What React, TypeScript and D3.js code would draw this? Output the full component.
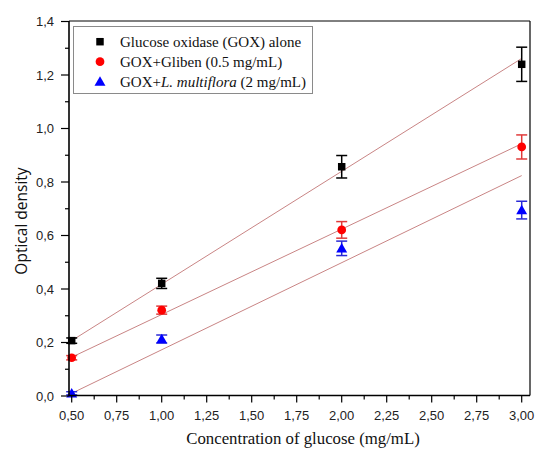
import React from "react";
import * as d3 from "d3";

const xValues = [0.5, 1, 2, 3];
const goxAlone = [0.207, 0.421, 0.857, 1.24];
const goxAloneErr = [0.01, 0.019, 0.042, 0.064];
const goxGliben = [0.143, 0.321, 0.621, 0.931];
const goxGlibenErr = [0.008, 0.015, 0.031, 0.045];
const goxLm = [0.01, 0.213, 0.552, 0.695];
const goxLmErr = [0.006, 0.015, 0.027, 0.033];

const fitX = [0.5, 3];
const goxAloneFit = [0.207, 1.262];
const goxGlibenFit = [0.145, 0.943];
const goxLmFit = [0.01, 0.824];

const xTicks = [0.5, 0.75, 1, 1.25, 1.5, 1.75, 2, 2.25, 2.5, 2.75, 3];
const xTickLabels = ["0,50", "0,75", "1,00", "1,25", "1,50", "1,75", "2,00", "2,25", "2,50", "2,75", "3,00"];
const yTicks = [0, 0.2, 0.4, 0.6, 0.8, 1.0, 1.2, 1.4];
const yTickLabels = ["0,0", "0,2", "0,4", "0,6", "0,8", "1,0", "1,2", "1,4"];

const W = 536, H = 452;
const left = 69, right = 530, top = 21, bottom = 395.5;

const x = d3.scaleLinear().domain([0.5, 3]).range([71.7, 521.7]);
const y = d3.scaleLinear().domain([0, 1.4]).range([396, 21.5]);

const xMinor = d3.range(0, 11).map(i => 0.625 + i * 0.25).filter(v => v <= 3.04);
const yMinor = d3.range(0, 7).map(i => 0.1 + i * 0.2);

type Series = { vals: number[]; err: number[]; fit: number[]; color: string; errColor: string; shape: string; };

const series: Series[] = [
  { vals: goxAlone, err: goxAloneErr, fit: goxAloneFit, color: "#000000", errColor: "#000000", shape: "square" },
  { vals: goxGliben, err: goxGlibenErr, fit: goxGlibenFit, color: "#ff0000", errColor: "#e03a3a", shape: "circle" },
  { vals: goxLm, err: goxLmErr, fit: goxLmFit, color: "#0000ff", errColor: "#2a2ad6", shape: "triangle" },
];

const symSquare = d3.symbol().type(d3.symbolSquare).size(56)();
const symCircle = d3.symbol().type(d3.symbolCircle).size(60)();
const symTri = d3.symbol().type(d3.symbolTriangle).size(52)();
const shapePath = (s: string) => (s === "square" ? symSquare : s === "circle" ? symCircle : symTri);

const line = d3.line<[number, number]>().x(d => x(d[0])).y(d => y(d[1]));

const SERIF = "'Liberation Serif', 'Times New Roman', Times, serif";
const SANS = "'Liberation Sans', Arial, sans-serif";

export default function App() {
  const cap = 5.5;
  return (
    <svg width={W} height={H} style={{ position: "absolute", left: 0, top: 0, background: "#fff" }}>
      <rect x={0} y={0} width={W} height={H} fill="#fff" />
      {series.map((s, i) => (
        <path key={"fit" + i} d={line(fitX.map((v, j) => [v, s.fit[j]] as [number, number])) || ""}
          stroke="#c98585" strokeWidth={1} fill="none" />
      ))}
      {series.map((s, i) => (
        <g key={"err" + i} stroke={s.errColor} strokeWidth={1.5}>
          {xValues.map((xv, j) => {
            const cx = x(xv), y1 = y(s.vals[j] + s.err[j]), y2 = y(s.vals[j] - s.err[j]);
            return (
              <g key={j}>
                <line x1={cx} x2={cx} y1={y1} y2={y2} />
                <line x1={cx - cap} x2={cx + cap} y1={y1} y2={y1} />
                <line x1={cx - cap} x2={cx + cap} y1={y2} y2={y2} />
              </g>
            );
          })}
        </g>
      ))}
      {series.map((s, i) => (
        <g key={"m" + i} fill={s.color}>
          {xValues.map((xv, j) => (
            <path key={j} d={shapePath(s.shape) || ""} transform={`translate(${x(xv)},${y(s.vals[j]) + (s.shape === "triangle" ? 1 : 0)})`} />
          ))}
        </g>
      ))}
      <line x1={left} x2={right} y1={top} y2={top} stroke="#000" strokeWidth={1} />
      <line x1={right} x2={right} y1={top} y2={bottom} stroke="#000" strokeWidth={1.2} />
      <line x1={left} x2={left} y1={top} y2={bottom + 0.5} stroke="#000" strokeWidth={1.6} />
      <line x1={left} x2={right} y1={bottom} y2={bottom} stroke="#000" strokeWidth={1.6} />
      {xTicks.map((t, i) => (
        <g key={"xt" + i}>
          <line x1={x(t)} x2={x(t)} y1={bottom} y2={bottom + 7} stroke="#000" strokeWidth={1.2} />
          <text x={x(t)} y={420} textAnchor="middle" style={{ fontFamily: SANS, fontSize: 13 }} fill="#222">{xTickLabels[i]}</text>
        </g>
      ))}
      {xMinor.map((t, i) => (
        <line key={"xm" + i} x1={x(t)} x2={x(t)} y1={bottom} y2={bottom + 4} stroke="#000" strokeWidth={1.2} />
      ))}
      {yTicks.map((t, i) => (
        <g key={"yt" + i}>
          <line x1={left - 8} x2={left} y1={y(t)} y2={y(t)} stroke="#000" strokeWidth={1.2} />
          <text x={54} y={y(t)} dy="0.36em" textAnchor="end" style={{ fontFamily: SANS, fontSize: 13 }} fill="#222">{yTickLabels[i]}</text>
        </g>
      ))}
      {yMinor.map((t, i) => (
        <line key={"ym" + i} x1={left - 4} x2={left} y1={y(t)} y2={y(t)} stroke="#000" strokeWidth={1.2} />
      ))}
      <text transform="translate(27,221) rotate(-90)" textAnchor="middle" style={{ fontFamily: "'Open Sans', sans-serif", fontSize: 15.5 }} fill="#111">Optical density</text>
      <text x={303} y={444} textAnchor="middle" style={{ fontFamily: SERIF, fontSize: 16.8 }} fill="#111">Concentration of glucose (mg/mL)</text>
      <rect x={73.5} y={26.5} width={239} height={67} fill="#fff" stroke="#8a8a8a" strokeWidth={1} />
      {series.map((s, row) => {
        const cy = 41.7 + row * 20;
        return (
          <path key={"lg" + row} d={shapePath(s.shape) || ""} fill={s.color} transform={`translate(100,${cy + (s.shape === "triangle" ? 1 : 0)})`} />
        );
      })}
      <g style={{ fontFamily: SERIF, fontSize: 15 }} fill="#111">
        <text x={120} y={46.7}>Glucose oxidase (GOX) alone</text>
        <text x={120} y={66.7}>GOX+Gliben (0.5 mg/mL)</text>
        <text x={120} y={86.7}>GOX+<tspan fontStyle="italic">L. multiflora</tspan> (2 mg/mL)</text>
      </g>
    </svg>
  );
}
